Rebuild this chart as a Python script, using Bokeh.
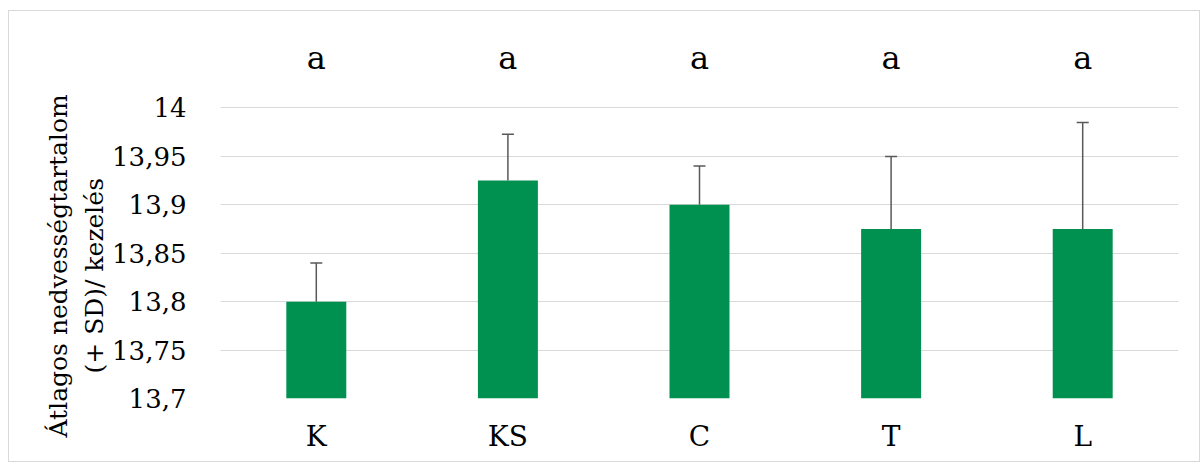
import math
from bokeh.plotting import figure
from bokeh.models import (FactorRange, Range1d, Whisker, ColumnDataSource, FixedTicker,
                          CustomJSTickFormatter, Title, TeeHead)
from bokeh.core.properties import value
from bokeh.embed import file_html
from bokeh.resources import INLINE

categories = ["K", "KS", "C", "T", "L"]
means = [13.8, 13.925, 13.9, 13.875, 13.875]
sds = [0.04, 0.048, 0.04, 0.075, 0.11]
letters = ["a", "a", "a", "a", "a"]
y_ticks = [13.7, 13.75, 13.8, 13.85, 13.9, 13.95, 14.0]
y_title = ["Átlagos nedvességtartalom", "(+ SD)/ kezelés"]

FONT = "DejaVu Serif"
GREEN = "#00904F"
GRID = "#d9d9d9"
ERR = "#595959"

src = ColumnDataSource(dict(
    cat=categories,
    mean=means,
    upper=[m + s for m, s in zip(means, sds)],
    letter=letters,
))

p = figure(
    x_range=FactorRange(*categories),
    y_range=Range1d(13.7, 14.0924),
    width=1192, height=452,
    output_backend="svg", toolbar_location=None,
    min_border_left=211, min_border_right=23,
    min_border_top=7, min_border_bottom=65,
)
p.styles = {"border": "1px solid #d9d9d9", "margin-left": "8px", "margin-top": "10px"}
p.outline_line_color = None

p.vbar(x="cat", top="mean", bottom=y_ticks[0], width=0.313, source=src,
       fill_color=GREEN, line_color=None)

w = Whisker(base="cat", upper="upper", lower="mean", source=src,
            line_color=ERR, line_width=1.5,
            upper_head=TeeHead(size=12, line_color=ERR, line_width=1.5),
            lower_head=None)
p.add_layout(w)

p.text(x="cat", y=14.052, text="letter", source=src,
       text_font=value(FONT), text_font_size="32px", text_color="black",
       text_align="center", text_baseline="alphabetic")

# y axis
p.yaxis.ticker = FixedTicker(ticks=y_ticks)
p.yaxis.formatter = CustomJSTickFormatter(
    code="return (Math.round(tick*100)/100).toString().replace('.', ',');")
p.yaxis.axis_line_color = None
p.yaxis.major_tick_line_color = None
p.yaxis.minor_tick_line_color = None
p.yaxis.major_label_standoff = 28
p.yaxis.major_label_text_font = FONT
p.yaxis.major_label_text_font_size = "26px"
p.yaxis.major_label_text_color = "black"

# x axis
p.xaxis.axis_line_color = None
p.xaxis.major_tick_line_color = None
p.xaxis.major_label_standoff = 15
p.xaxis.major_label_text_font = FONT
p.xaxis.major_label_text_font_size = "28px"
p.xaxis.major_label_text_color = "black"

p.xgrid.grid_line_color = None
p.ygrid.ticker = FixedTicker(ticks=y_ticks)
p.ygrid.grid_line_color = GRID
p.ygrid.grid_line_width = 1

# y title, two lines, rotated (inner line first)
p.add_layout(Title(text=y_title[1], align="left", offset=25, standoff=2,
                   text_font=FONT, text_font_size="25px", text_font_style="normal",
                   text_color="black"), "left")
p.add_layout(Title(text=y_title[0], align="left", offset=-39, standoff=8,
                   text_font=FONT, text_font_size="25px", text_font_style="normal",
                   text_color="black"), "left")

open("out.html", "w").write(file_html(p, INLINE))
